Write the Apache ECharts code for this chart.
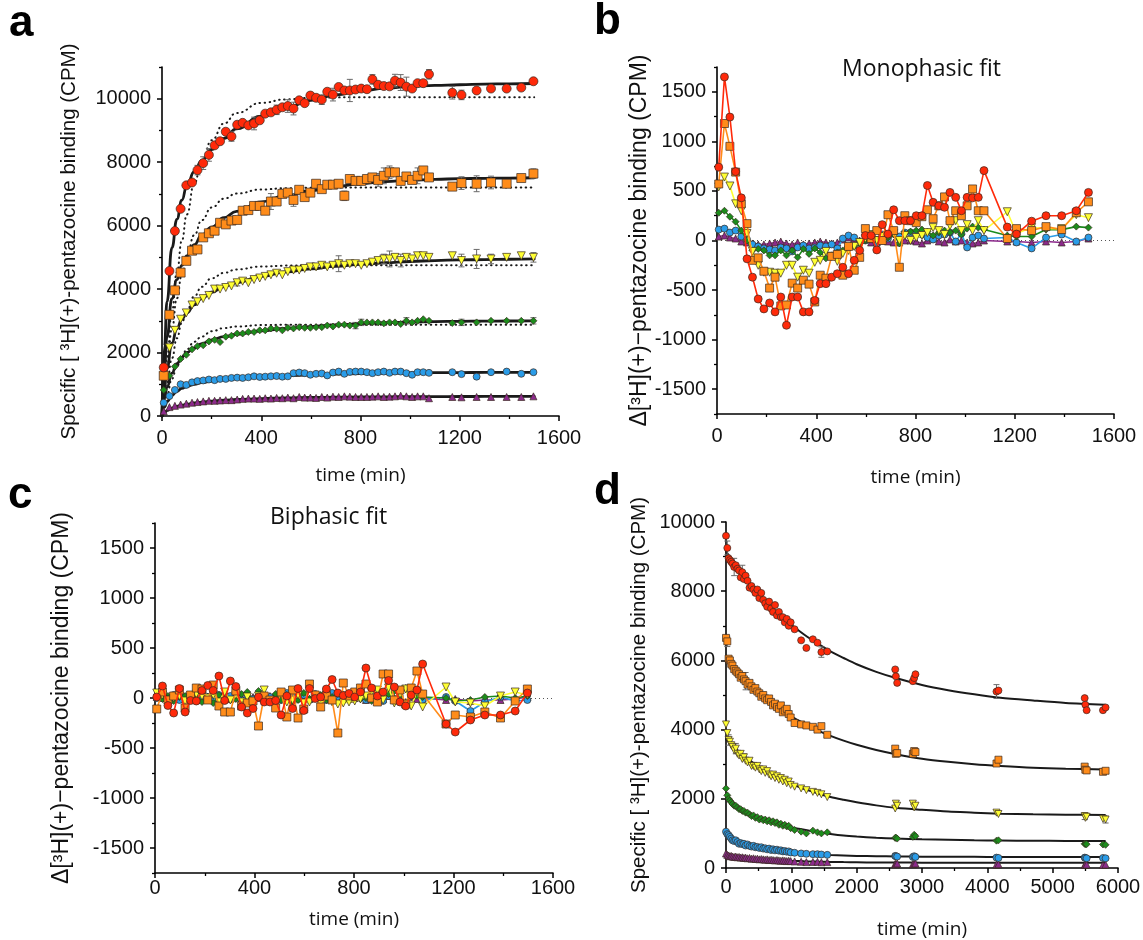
<!DOCTYPE html>
<html><head><meta charset="utf-8">
<script src="https://cdn.jsdelivr.net/npm/echarts@6/dist/echarts.min.js"></script>
<style>html,body{margin:0;background:#fff}#c{width:1143px;height:940px}</style>
</head><body><div id="c"></div>
<script>
// ---------- Panel a/b/c shared sampling times (min) ----------
const timeA = [7,30,52,75,98,121,143,166,189,212,234,257,280,303,325,348,371,394,416,439,462,485,507,530,553,575,598,621,644,666,689,712,735,757,780,803,826,848,871,894,917,939,962,985,1008,1030,1053,1076,1170,1207,1268,1326,1389,1448,1497];

// ---------- Panel a: association data (CPM) ----------
const redA = [1530,4570,5830,6530,7270,7360,7750,7970,8230,8530,8660,8960,8810,9180,9240,9160,9220,9320,9530,9570,9650,9730,9770,9690,9950,9860,10100,10030,9970,10220,10130,10370,10260,10260,10290,10320,10300,10610,10440,10400,10390,10570,10510,10380,10320,10490,10490,10770,10190,10120,10260,10320,10320,10350,10550];
const orangeA = [1270,3190,3960,4520,4890,5210,5250,5630,5760,5840,6090,6040,6160,6180,6470,6490,6620,6620,6470,6760,6760,7000,7040,6810,7130,6900,7040,7320,7150,7290,7290,7320,6940,7470,7410,7410,7470,7520,7440,7570,7680,7680,7410,7550,7440,7570,7740,7520,7230,7340,7320,7360,7320,7500,7640];
const yellowA = [1250,2150,2700,3050,3250,3500,3600,3700,3800,4000,4000,4050,4100,4200,4250,4200,4300,4350,4400,4450,4500,4450,4550,4600,4600,4650,4700,4700,4750,4700,4750,4800,4750,4800,4800,4750,4800,4850,4900,4950,4950,5000,4900,5000,4950,5050,5050,5000,5050,4900,4950,4950,5000,5050,5000];
const greenA = [820,1270,1560,1800,1930,2100,2200,2230,2350,2400,2330,2500,2530,2600,2600,2650,2650,2700,2700,2760,2750,2700,2780,2760,2800,2780,2780,2800,2800,2850,2820,2880,2880,2850,2850,2950,2950,2950,2950,2920,2950,2950,2900,3000,2950,3000,3050,3000,2930,2950,2950,3000,3000,3000,3000];
const blueA = [420,630,820,1000,980,1060,1100,1120,1150,1130,1170,1170,1200,1210,1200,1220,1250,1230,1240,1250,1260,1240,1250,1350,1370,1350,1300,1330,1340,1280,1370,1400,1330,1390,1400,1400,1380,1350,1380,1400,1360,1400,1400,1350,1300,1380,1380,1360,1380,1320,1240,1380,1400,1330,1380];
const purpleA = [150,280,320,360,390,420,440,460,480,480,490,500,500,520,540,550,550,540,560,550,570,560,580,560,600,580,580,570,600,580,610,600,620,610,600,600,600,610,620,600,610,620,640,620,600,620,620,560,600,590,600,600,600,600,620];
// error bars (SEM) in panel a
const redErrA = [0,0,0,0,0,0,150,200,200,0,0,0,150,0,0,0,200,0,0,0,150,0,200,200,0,0,100,0,150,0,200,0,0,350,0,0,0,150,0,0,100,200,250,300,0,0,0,150,200,150,0,0,0,0,0];
const orangeErrA = [0,0,0,0,0,0,0,0,0,0,0,100,0,0,0,0,0,0,100,250,0,0,0,200,0,0,0,0,0,0,0,0,150,0,0,0,0,0,200,250,200,0,0,0,0,250,0,0,0,200,250,200,0,100,150];
const yellowErrA = [0,0,0,0,0,0,0,0,0,0,0,0,0,100,0,0,0,0,0,0,0,0,0,0,0,0,0,0,0,0,0,250,0,0,0,0,0,0,0,150,250,0,200,0,0,0,0,0,0,200,300,150,0,0,150];
const greenErrA = [0,0,0,0,0,0,0,0,0,0,0,0,0,0,0,0,0,0,0,0,0,0,0,0,0,0,0,0,0,0,0,0,0,0,100,100,0,0,0,0,0,0,0,100,0,0,0,0,0,100,0,0,0,0,100];
// biphasic fit curves (solid)
const fitTimeA = [0,10,20,40,60,80,100,130,160,200,250,300,400,500,600,700,800,900,1000,1100,1200,1300,1400,1500];
const redFitA = [0,2200,3600,5300,6200,6800,7250,7700,8050,8400,8750,9050,9450,9720,9950,10120,10250,10330,10390,10420,10440,10460,10470,10480];
const orangeFitA = [0,1500,2500,3700,4300,4750,5050,5400,5700,5950,6250,6450,6750,6950,7100,7230,7320,7390,7430,7460,7480,7490,7500,7510];
const yellowFitA = [0,900,1500,2300,2750,3050,3250,3500,3700,3900,4080,4200,4400,4540,4640,4720,4780,4830,4870,4900,4920,4930,4940,4950];
const greenFitA = [0,550,900,1350,1650,1850,2000,2150,2280,2400,2500,2570,2680,2760,2820,2870,2910,2940,2960,2975,2985,2990,2995,3000];
const blueFitA = [0,280,450,650,780,870,930,1000,1050,1100,1150,1180,1230,1270,1300,1320,1340,1350,1360,1365,1370,1372,1375,1378];
const purpleFitA = [0,100,170,250,300,340,370,410,440,470,500,520,550,570,585,595,600,605,610,612,614,616,618,620];
// monophasic fit curves (dotted)
const dotTimeA = [0,20,40,60,80,100,130,160,200,250,300,400,500,600,800,1500];
const redDotA = [0,1820,3310,4530,5530,6350,7330,8020,8690,9220,9550,9870,9980,10030,10050,10050];
const orangeDotA = [0,1540,2750,3710,4460,5050,5700,6170,6570,6850,7010,7140,7180,7195,7200,7200];
const yellowDotA = [0,1020,1820,2450,2940,3330,3770,4070,4340,4510,4620,4710,4740,4746,4750,4750];
const greenDotA = [0,660,1170,1570,1870,2100,2340,2500,2670,2770,2820,2865,2876,2879,2880,2880];

// ---------- Panel b: residuals of monophasic fit ----------
const redB = [740,1650,1245,695,430,-185,-370,-590,-690,-630,-720,-570,-855,-570,-570,-720,-720,-605,-435,-435,-370,-335,-270,-335,-200,-100,50,50,-95,160,65,310,200,200,200,250,250,555,385,350,335,485,435,300,435,430,435,705,135,65,195,250,250,300,485];
const orangeB = [570,1180,950,690,370,170,-200,-175,-310,-480,-370,-660,-650,-430,-480,-400,-440,-620,-350,-380,-160,-140,-350,-60,-300,-170,120,20,100,0,260,100,-270,250,200,180,240,310,220,350,440,200,300,250,350,520,300,300,20,120,100,140,110,280,390];
const yellowB = [540,640,550,370,300,70,-110,-250,-320,-320,-330,-330,-250,-250,-370,-300,-330,-220,-200,-110,-160,-210,-130,-100,-60,-20,20,60,0,40,50,70,0,50,0,30,50,80,130,100,60,150,200,100,160,100,200,100,290,70,130,120,120,260,230];
const greenB = [280,300,240,190,100,0,-100,-85,-100,-150,-150,-100,-150,-100,-170,-85,-135,-80,-120,-180,-150,-120,-100,-70,-60,-30,0,30,10,50,30,60,-30,70,90,100,110,90,50,80,100,80,100,60,120,140,130,110,50,40,40,110,110,140,130];
const blueB = [110,120,80,100,40,10,-40,-60,-80,-90,-100,-70,-80,-110,-70,-50,-80,-70,-50,-60,-40,-80,20,50,30,-20,0,40,-30,60,20,70,40,80,80,80,60,30,10,50,60,80,-10,70,-70,30,50,20,30,-20,-80,30,60,-10,30];
const purpleB = [40,50,30,20,-10,-20,-30,-40,-40,-30,-20,-10,-30,-40,-20,-40,-30,-20,-10,-20,-30,-20,10,30,20,0,10,-20,-20,0,-10,-20,-20,0,0,-10,-30,0,20,-10,-20,10,-10,0,-20,-30,-20,0,-10,-10,-20,-10,-20,-10,20];

// ---------- Panel c: residuals of biphasic fit ----------
const redC = [10,120,-75,-150,95,-140,-25,-30,75,125,75,220,-25,170,115,-90,-150,-105,10,-40,-40,-25,-170,20,-105,95,-125,95,-5,10,90,185,50,25,45,10,60,300,100,20,60,175,110,-40,-80,30,80,340,-260,-340,-220,-170,-170,-130,50];
const orangeC = [-110,60,-20,20,80,-100,30,100,90,-20,130,-80,-140,-140,70,-80,-50,-30,-280,20,-20,-100,60,-190,80,-200,-110,140,30,-90,20,-20,-350,150,20,60,100,140,0,-40,240,240,-20,80,-60,100,270,40,-260,-170,-190,-140,-200,-30,90];
const yellowC = [50,30,-20,0,20,-30,-10,40,20,0,30,-40,60,-20,30,-40,10,-50,20,80,-30,-60,40,-40,-20,30,-50,-40,20,-60,30,-40,-60,-50,-40,-30,-10,20,60,80,-20,100,-50,40,90,-80,60,-90,110,-40,-50,-80,20,60,30];
const greenC = [30,-10,20,-30,10,20,-20,40,-40,10,-50,30,40,-20,-10,40,60,-30,70,10,-30,40,-20,30,-40,-20,50,-10,20,30,-20,10,40,-30,-20,30,-10,0,-30,20,10,40,70,20,100,50,20,10,0,-30,-20,10,20,0,20];
const blueC = [0,20,-10,30,-20,10,0,-30,20,10,-20,30,-10,20,0,-20,10,-10,20,-30,10,0,-20,50,20,-10,30,-20,40,10,-20,50,10,30,-10,20,40,-20,10,30,-30,20,-10,-40,-70,20,50,-20,10,-30,-130,-40,10,-30,-20];
const purpleC = [10,0,-10,20,-10,0,10,-20,0,10,-10,20,0,-10,10,0,-20,10,0,-10,20,-10,0,10,-20,0,10,-10,20,0,-10,10,0,20,-10,0,10,-20,10,0,-10,20,0,-10,-40,10,-10,0,-20,-10,-30,-20,-20,-10,10];

// ---------- Panel d: dissociation ----------
const timeD = [0,20,40,60,80,100,125,150,175,200,225,250,275,300,330,360,390,420,450,480,510,540,570,600,630,660,690,720,750,780,810,840,870,900,930,960,990,1050,1150,1230,1330,1400,1460,1550,2590,2600,2620,2860,2880,2900,4140,4170,5490,5500,5520,5770,5810];
const redD = [9600,9250,8950,8900,8850,8800,8700,8750,8650,8600,8400,8550,8350,8450,8300,8100,8150,8050,7950,8050,7800,7950,7750,7650,7550,7700,7500,7400,7600,7300,7400,7250,7250,7100,7200,7000,7100,6900,6580,6360,6610,6510,6240,6260,5740,5540,5350,5400,5490,5600,5100,5130,4910,4720,4560,4560,4640];
const orangeD = [6650,6550,6050,6000,5900,5850,5750,5700,5650,5600,5500,5550,5450,5400,5300,5350,5250,5150,5200,5100,5050,4950,5000,4900,4850,4900,4800,4700,4750,4650,4600,4700,4500,4550,4600,4450,4350,4190,4150,4120,4080,4000,4100,3850,3450,3300,3320,3300,3380,3350,3020,3130,2930,2840,2820,2780,2810];
const yellowD = [4150,3900,3700,3650,3550,3500,3400,3450,3300,3250,3300,3150,3200,3100,3050,3100,2950,2950,2900,2950,2850,2800,2850,2750,2800,2700,2650,2700,2600,2650,2550,2600,2500,2550,2450,2500,2400,2350,2300,2250,2200,2170,2130,2050,1720,1860,1800,1860,1750,1800,1600,1560,1500,1450,1480,1420,1400];
const greenD = [2300,2100,2000,1950,1900,1850,1800,1800,1750,1700,1700,1650,1650,1600,1600,1550,1500,1520,1450,1470,1400,1430,1380,1400,1350,1380,1320,1350,1300,1320,1250,1280,1220,1250,1200,1220,1150,1100,1050,1000,1080,1030,1000,1030,870,880,850,900,960,920,790,800,700,690,690,680,670];
const blueD = [1050,980,950,900,850,800,780,800,750,700,720,690,700,650,680,640,620,640,600,610,580,600,560,570,540,560,520,540,510,530,500,510,480,490,470,480,450,440,420,410,400,400,390,380,350,340,330,320,340,320,300,290,300,290,280,290,280];
const purpleD = [420,380,360,340,350,330,320,330,310,320,300,310,290,300,280,290,270,280,260,270,250,260,250,240,250,230,240,230,220,230,220,210,220,210,200,210,200,190,180,170,175,180,165,170,120,110,130,110,120,130,100,110,90,100,100,90,100];
const redErrD = [0,200,0,0,0,0,250,0,0,0,0,200,0,0,0,0,0,0,0,0,0,0,0,0,0,0,0,0,0,0,0,0,0,0,0,0,0,0,0,0,0,0,150,0,0,0,0,0,0,0,200,0,0,0,0,0,0];
const orangeErrD = [0,150,0,0,0,0,0,0,0,0,0,0,0,250,0,0,0,0,0,0,0,0,0,0,0,0,0,0,0,0,0,0,0,0,0,0,0,0,0,0,0,0,0,0,0,0,0,0,0,0,0,0,0,0,0,0,0];
const yellowErrD = [0,0,150,0,0,0,0,150,0,0,0,0,100,0,0,0,0,0,0,0,0,0,0,0,0,0,0,0,0,0,0,0,0,0,0,0,0,0,0,0,0,0,0,0,0,0,0,0,0,0,0,0,100,0,0,0,100];
const fitTimeD = [0,50,100,150,200,300,400,500,600,700,800,1000,1200,1400,1600,1800,2000,2300,2600,3000,3400,3800,4200,4700,5200,5800];
const redFitD = [9150,9010,8870,8740,8610,8370,8140,7920,7720,7530,7350,7030,6740,6490,6260,6070,5890,5670,5490,5290,5140,5020,4920,4840,4770,4720];
const orangeFitD = [6100,5980,5870,5760,5650,5450,5260,5090,4920,4770,4630,4380,4170,3980,3820,3680,3560,3410,3290,3160,3070,3000,2950,2900,2870,2850];
const yellowFitD = [3720,3630,3530,3450,3360,3210,3060,2930,2810,2700,2600,2430,2280,2160,2050,1970,1900,1810,1740,1680,1630,1600,1570,1550,1540,1530];
const greenFitD = [2100,1985,1880,1795,1720,1610,1515,1440,1380,1325,1275,1180,1105,1040,985,940,910,875,850,830,815,800,793,787,783,780];
const blueFitD = [1030,960,900,848,800,722,660,610,570,536,508,460,423,396,376,362,350,340,333,327,324,322,321,320,320,320];
const purpleFitD = [400,380,360,344,330,304,285,270,257,245,234,212,197,186,177,170,165,160,157,154,152,151,151,150,150,150];

// ---------- axis tick values ----------
const ticksAy = [0,2000,4000,6000,8000,10000];
const minorAy = [1000,3000,5000,7000,9000,11000];
const ticksRes = [-1500,-1000,-500,0,500,1000,1500];
const minorRes = [-1750,-1250,-750,-250,250,750,1250,1750];
const ticksDy = [0,2000,4000,6000,8000,10000];
const minorDy = [1000,3000,5000,7000,9000];

// ---------- texts ----------
const nameSpec = 'Specific [ ³H](+)-pentazocine binding (CPM)';
const nameDelta = 'Δ[³H](+)−pentazocine binding (CPM)';
const nameTime = 'time (min)';

// ---------- styling ----------
const COL = {red:'#ff2a0a', orange:'#ff8c1a', yellow:'#ffff33', green:'#1c8c1c', blue:'#2a9ce8', purple:'#8c2a8c'};
const SYM = {red:'circle', orange:'rect', yellow:'triangle', green:'diamond', blue:'circle', purple:'triangle'};
const ROT = {red:0, orange:0, yellow:180, green:0, blue:0, purple:0};
const SZA = {red:9, orange:9, yellow:8, green:7, blue:7, purple:7};
const SZB = {red:8, orange:8, yellow:8, green:7, blue:7, purple:7};
const TICKFONT = 'Liberation Sans';
const NAMEFONT = 'Open Sans';

const grids = [
  {left:162, top:67, width:397, height:349},
  {left:717, top:67, width:397, height:347},
  {left:155, top:523, width:398, height:350},
  {left:726, top:522, width:392, height:346}
];

function zip(xs, ys){ return ys.map((v,i)=>[xs[i], v]); }
function zipErr(xs, ys, es){ return ys.map((v,i)=>[xs[i], v, es[i]]).filter(d=>d[2]>0); }
const plain = v => String(v);

function xAxis(gi, max, interval, labelMargin, nameGap){
  return {type:'value', gridIndex:gi, min:0, max:max, interval:interval,
    name:nameTime, nameLocation:'middle', nameGap:nameGap,
    nameTextStyle:{fontFamily:NAMEFONT, fontSize:19, color:'#111'},
    axisLine:{show:true, onZero:false, lineStyle:{color:'#000', width:1.6}},
    axisTick:{show:true, length:5, lineStyle:{color:'#000', width:1.5}},
    minorTick:{show:true, splitNumber:2, length:3, lineStyle:{color:'#000', width:1.3}},
    axisLabel:{fontFamily:TICKFONT, fontSize:20, color:'#111', margin:labelMargin, formatter:plain},
    splitLine:{show:false}, minorSplitLine:{show:false}};
}
function yAxisMain(gi, min, max, ticks, name, gap, fs){
  return {type:'value', gridIndex:gi, min:min, max:max, position:'left',
    name:name, nameLocation:'middle', nameGap:gap, nameRotate:90,
    nameTextStyle:{fontFamily:TICKFONT, fontSize:fs, color:'#111'},
    axisLine:{show:true, onZero:false, lineStyle:{color:'#000', width:1.6}},
    axisTick:{show:true, length:5, customValues:ticks, lineStyle:{color:'#000', width:1.5}},
    axisLabel:{fontFamily:TICKFONT, fontSize:20, color:'#111', margin:11, customValues:ticks, formatter:plain},
    splitLine:{show:false}};
}
function yAxisMinor(gi, min, max, ticks){
  return {type:'value', gridIndex:gi, min:min, max:max, position:'left', offset:0,
    axisLine:{show:false, onZero:false},
    axisTick:{show:true, length:3, customValues:ticks, lineStyle:{color:'#000', width:1.3}},
    axisLabel:{show:false}, splitLine:{show:false}};
}

function errRender(params, api){
  const x = api.value(0), y = api.value(1), e = api.value(2);
  const p1 = api.coord([x, y+e]), p2 = api.coord([x, y-e]);
  const st = {stroke:'#6a6a6a', lineWidth:1};
  return {type:'group', children:[
    {type:'line', shape:{x1:p1[0], y1:p1[1], x2:p2[0], y2:p2[1]}, style:st},
    {type:'line', shape:{x1:p1[0]-3, y1:p1[1], x2:p1[0]+3, y2:p1[1]}, style:st},
    {type:'line', shape:{x1:p2[0]-3, y1:p2[1], x2:p2[0]+3, y2:p2[1]}, style:st}
  ]};
}

const series = [];
const order = ['purple','blue','green','yellow','orange','red'];
const A = {red:redA, orange:orangeA, yellow:yellowA, green:greenA, blue:blueA, purple:purpleA};
const AF = {red:redFitA, orange:orangeFitA, yellow:yellowFitA, green:greenFitA, blue:blueFitA, purple:purpleFitA};
const AD = {red:redDotA, orange:orangeDotA, yellow:yellowDotA, green:greenDotA};
const AE = {red:redErrA, orange:orangeErrA, yellow:yellowErrA, green:greenErrA};
const B = {red:redB, orange:orangeB, yellow:yellowB, green:greenB, blue:blueB, purple:purpleB};
const C = {red:redC, orange:orangeC, yellow:yellowC, green:greenC, blue:blueC, purple:purpleC};
const D = {red:redD, orange:orangeD, yellow:yellowD, green:greenD, blue:blueD, purple:purpleD};
const DF = {red:redFitD, orange:orangeFitD, yellow:yellowFitD, green:greenFitD, blue:blueFitD, purple:purpleFitD};
const DE = {red:redErrD, orange:orangeErrD, yellow:yellowErrD};

function scatter(xi, yi, data, k, size, z){
  return {type:'scatter', xAxisIndex:xi, yAxisIndex:yi, data:data, symbol:SYM[k], symbolRotate:ROT[k],
    symbolSize:size, itemStyle:{color:COL[k], borderColor:'#3a2a20', borderWidth:0.7, opacity:1}, z:z, silent:true};
}
function fitLine(xi, yi, data, dotted, width, smooth, mono){
  const s = {type:'line', xAxisIndex:xi, yAxisIndex:yi, data:data, smooth:smooth,
    showSymbol:false, symbol:'none', silent:true, z:dotted?2:3,
    lineStyle:{color:'#1a1a1a', width:width, type:dotted?[0.5,4.5]:'solid', cap:'round'}};
  if (mono) s.smoothMonotone = 'x';
  return s;
}
function errSeries(xi, yi, data){
  return {type:'custom', xAxisIndex:xi, yAxisIndex:yi, data:data, renderItem:errRender,
    encode:{x:0, y:1}, silent:true, z:4};
}

// panel a
order.forEach(k=>{
  if (AD[k]) series.push(fitLine(0, 0, zip(dotTimeA, AD[k]), true, 2, true, true));
  series.push(fitLine(0, 0, zip(fitTimeA, AF[k]), false, 2.8, true, true));
  if (AE[k]) series.push(errSeries(0, 0, zipErr(timeA, A[k], AE[k])));
  series.push(scatter(0, 0, zip(timeA, A[k]), k, SZA[k], 5));
});
// panels b and c
[[1, 2, B], [2, 4, C]].forEach(([xi, yi, S])=>{
  order.forEach((k, j)=>{
    const s = {type:'line', xAxisIndex:xi, yAxisIndex:yi, data:zip(timeA, S[k]),
      symbol:SYM[k], symbolRotate:ROT[k], symbolSize:SZB[k], showSymbol:true, showAllSymbol:true, silent:true,
      lineStyle:{color:COL[k], width:1.6}, itemStyle:{color:COL[k], borderColor:'#3a2a20', borderWidth:0.7}, z:5+j};
    if (j === 0) {
      s.markLine = {silent:true, symbol:'none', label:{show:false},
        lineStyle:{type:[1,3], color:'#555', width:1}, data:[{yAxis:0}]};
    }
    series.push(s);
  });
});
// panel d
order.forEach(k=>{
  series.push(fitLine(3, 6, zip(fitTimeD, DF[k]), false, 2, 0.3, false));
  if (DE[k]) series.push(errSeries(3, 6, zipErr(timeD, D[k], DE[k])));
  series.push(scatter(3, 6, zip(timeD, D[k]), k, 7, 5));
});

const option = {
  animation:false,
  backgroundColor:'#fff',
  textStyle:{fontFamily:TICKFONT},
  grid: grids.map(g=>Object.assign({containLabel:false, outerBoundsMode:'none'}, g)),
  xAxis:[xAxis(0,1600,400,12,50), xAxis(1,1600,400,12,54), xAxis(2,1600,400,5,37), xAxis(3,6000,1000,9,52)],
  yAxis:[
    yAxisMain(0, 0, 11000, ticksAy, nameSpec, 82, 20.5), yAxisMinor(0, 0, 11000, minorAy),
    yAxisMain(1, -1750, 1750, ticksRes, nameDelta, 62, 23), yAxisMinor(1, -1750, 1750, minorRes),
    yAxisMain(2, -1750, 1750, ticksRes, nameDelta, 82, 23), yAxisMinor(2, -1750, 1750, minorRes),
    yAxisMain(3, 0, 10000, ticksDy, nameSpec, 76, 20.5), yAxisMinor(3, 0, 10000, minorDy)
  ],
  graphic:[
    {type:'text', left:9, top:2, style:{text:'a', font:'bold 44px "Liberation Sans", Arial', fill:'#000'}},
    {type:'text', left:594, top:0, style:{text:'b', font:'bold 44px "Liberation Sans", Arial', fill:'#000'}},
    {type:'text', left:8, top:474, style:{text:'c', font:'bold 44px "Liberation Sans", Arial', fill:'#000'}},
    {type:'text', left:594, top:470, style:{text:'d', font:'bold 44px "Liberation Sans", Arial', fill:'#000'}},
    {type:'text', left:842, top:58, style:{text:'Monophasic fit', font:'23px "Open Sans", sans-serif', fill:'#111'}},
    {type:'text', left:270, top:506, style:{text:'Biphasic fit', font:'23px "Open Sans", sans-serif', fill:'#111'}}
  ],
  series: series
};
const chart = echarts.init(document.getElementById('c'), null, {renderer:'canvas'});
chart.setOption(option);
</script>
</body></html>
